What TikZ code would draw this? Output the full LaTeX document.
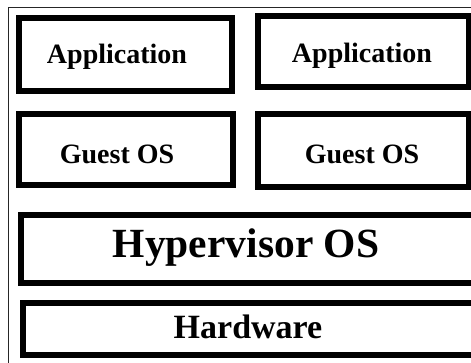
\documentclass[tikz,border=0pt]{standalone}
\usepackage{fontspec}
\setmainfont{Liberation Serif}
\begin{document}
\begin{tikzpicture}[x=1pt,y=-1pt,
  layerbox/.style={draw=black,line width=6pt,fill=white},
  frameline/.style={draw=black!85,line width=1.6pt},
  lbl/.style={anchor=base,inner sep=0pt,font=\bfseries}]
\useasboundingbox (0,0) rectangle (471,362);
\clip (0,0) rectangle (471,362);
\fill[white] (0,0) rectangle (471,362);
\draw[frameline] (8.5,7.5) rectangle (490,390);
% boxes
\draw[layerbox] (19,18) rectangle (232,91);
\draw[layerbox] (258,16) rectangle (469,87);
\draw[layerbox] (19,114) rectangle (233,185);
\draw[layerbox] (258,114) rectangle (469,187);
\draw[layerbox] (21,215) rectangle (480,283);
\draw[layerbox] (23,303) rectangle (480,355);
% labels
\node[lbl,font=\fontsize{28}{31}\selectfont\bfseries] (app1) at (117,63) {Application};
\node[lbl,font=\fontsize{28}{31}\selectfont\bfseries] (app2) at (362,62) {Application};
\node[lbl,font=\fontsize{28}{31}\selectfont\bfseries] (guest1) at (117,163) {Guest OS};
\node[lbl,font=\fontsize{28}{31}\selectfont\bfseries] (guest2) at (362,163) {Guest OS};
\node[lbl,font=\fontsize{41.5}{45}\selectfont\bfseries] (hyp) at (246,257) {Hypervisor OS};
\node[lbl,font=\fontsize{34}{38}\selectfont\bfseries] (hw) at (248,338) {Hardware};
\end{tikzpicture}
\end{document}
